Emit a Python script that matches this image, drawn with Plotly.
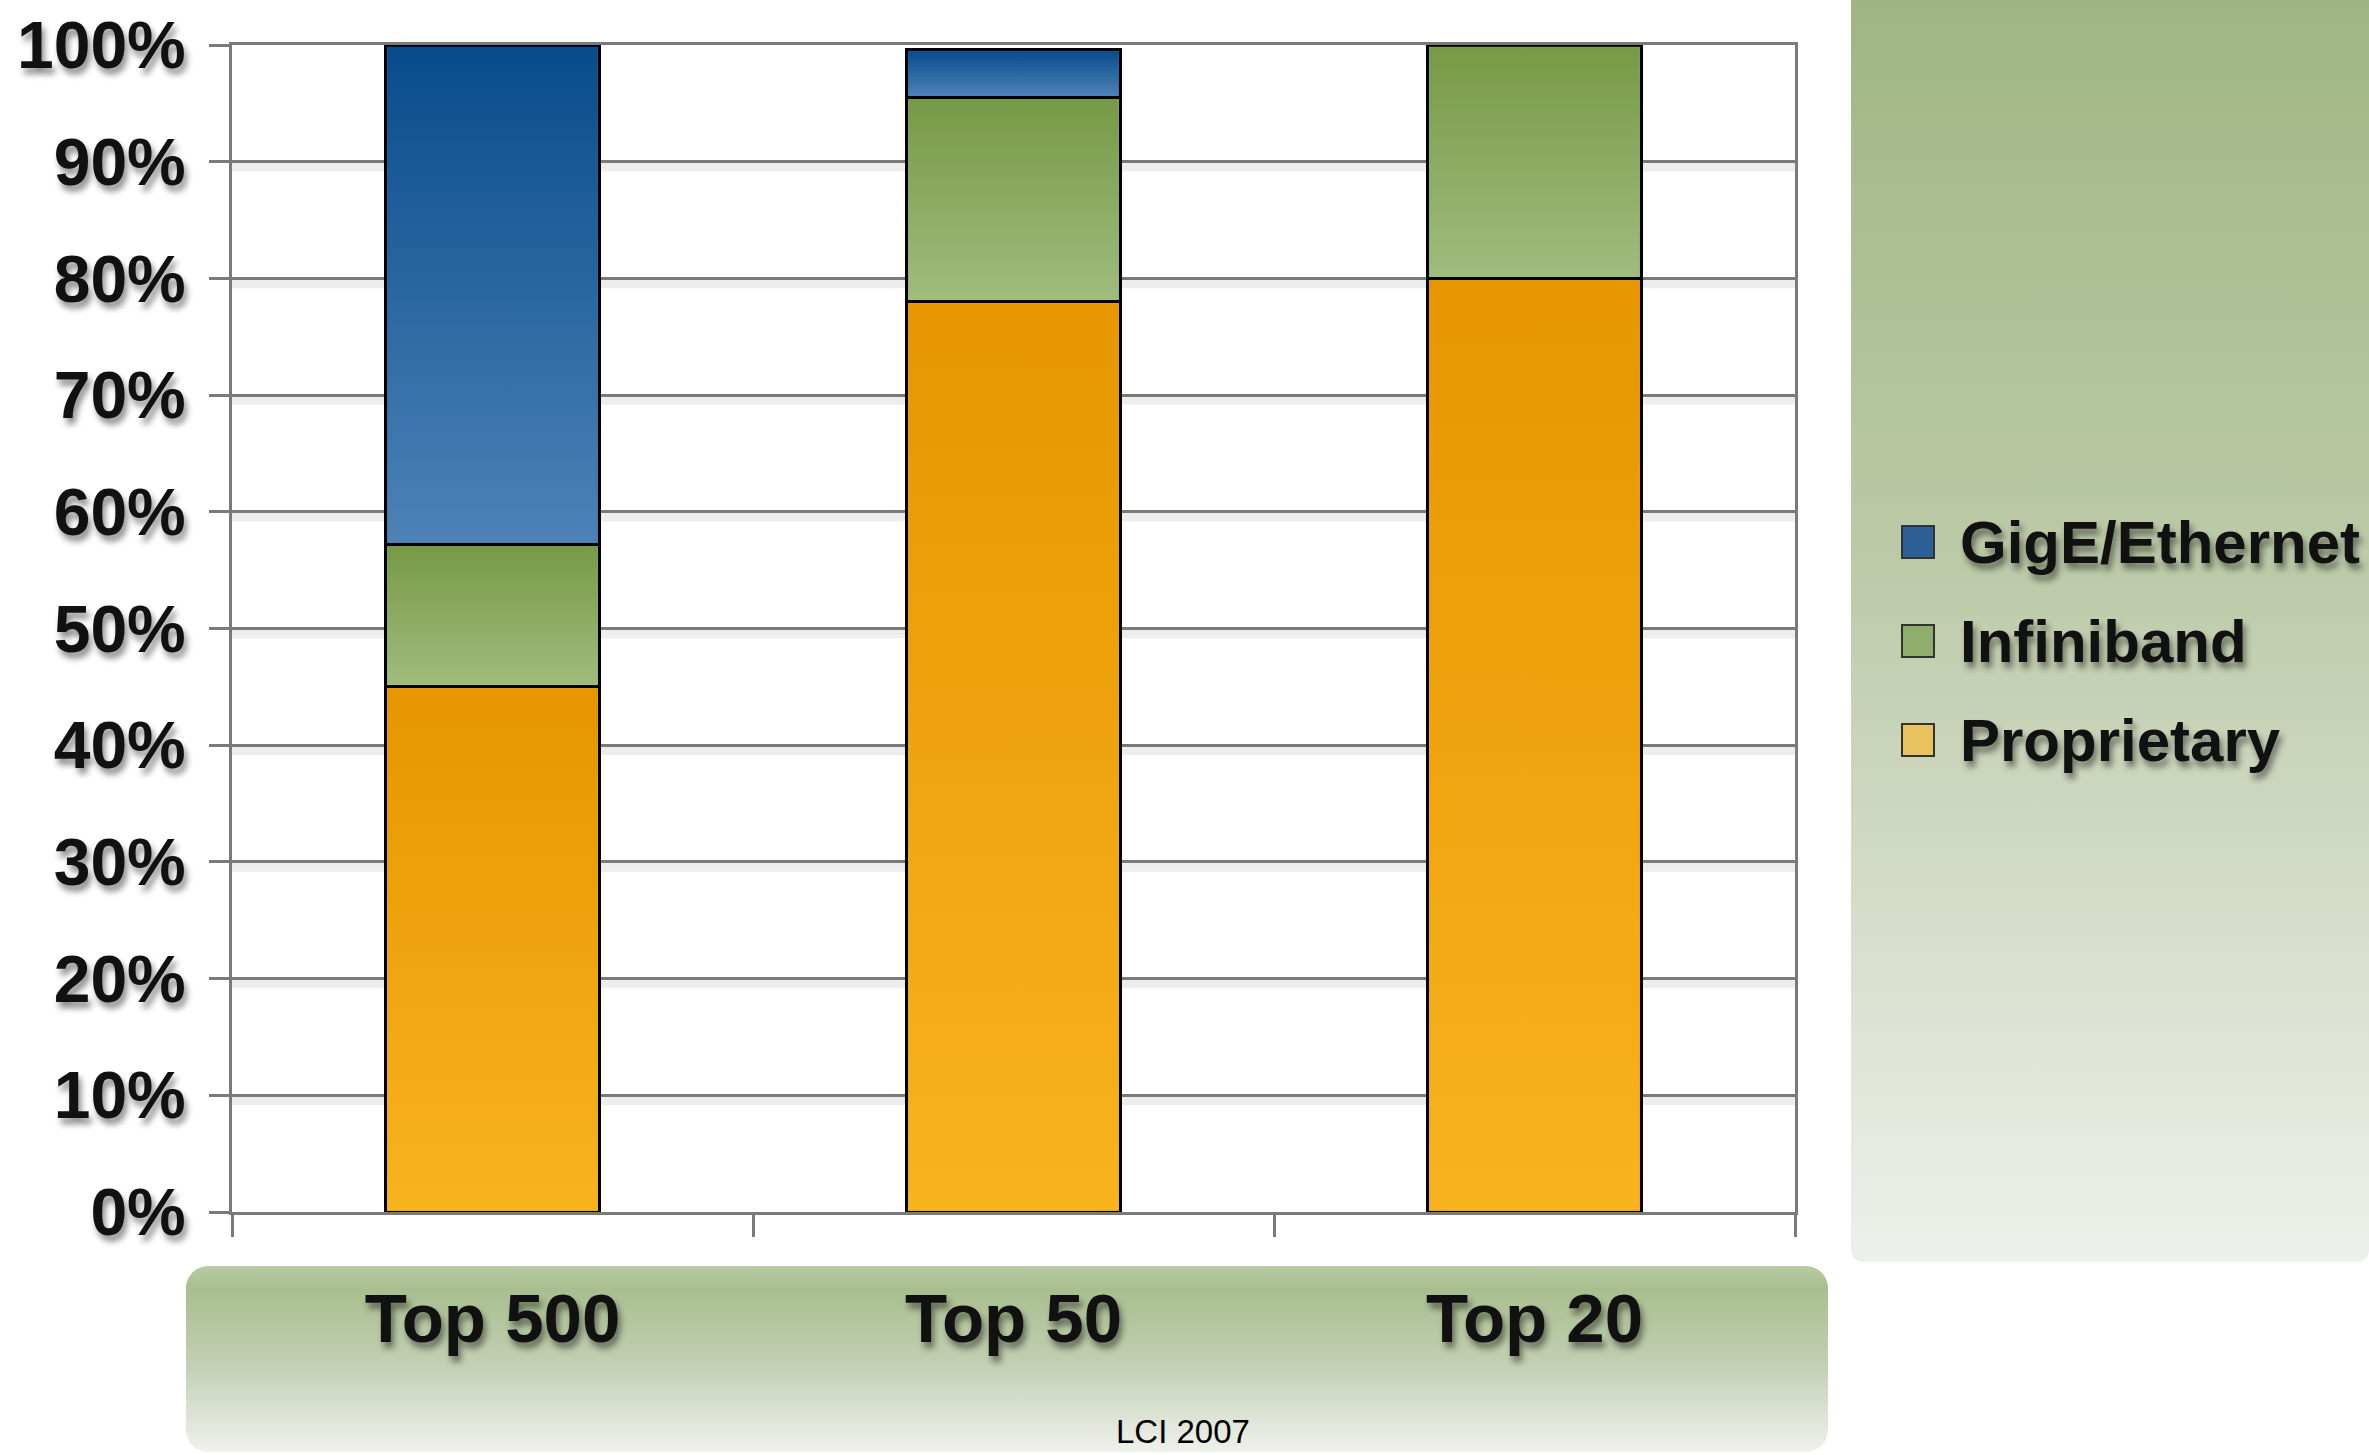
import base64
import plotly.graph_objects as go

# Interconnect share by system class
categories = ["Top 500", "Top 50", "Top 20"]
proprietary = [45.0, 78.0, 80.0]
infiniband = [12.2, 17.5, 20.0]
gige = [42.8, 4.1, 0.0]

series_names = ["Proprietary", "Infiniband", "GigE/Ethernet"]
series_colors = ["#eca20a", "#8ba963", "#2a649e"]
# vertical shading for each series: (top colour, bottom colour)
series_shading = [("#e59600", "#f8b31e"), ("#769a46", "#a0bc7e"), ("#084c8c", "#4d82b6")]
swatch_colors = ["#e8c25e", "#8fae6c", "#2d5f96"]

y_ticks = list(range(0, 101, 10))
y_tick_text = [f"{v}%" for v in y_ticks]

W, H = 2369, 1455
PLOT_X0, PLOT_X1 = 232, 1795
PLOT_Y0, PLOT_Y1 = 45, 1212
BAR_WIDTH = 0.41
OUTLINE = 3
FONT = "Liberation Sans, Arial, Helvetica, sans-serif"
SHADOW = "3px 6px 6px rgba(0,0,0,0.45)"


def gradient_svg(w, h, stops, rx=0):
    stop_xml = "".join(
        f'<stop offset="{o}" stop-color="{c}"/>' for o, c in stops
    )
    svg = (
        f'<svg xmlns="http://www.w3.org/2000/svg" width="{w}" height="{h}" '
        f'viewBox="0 0 {w} {h}" preserveAspectRatio="none">'
        f'<defs><linearGradient id="g" x1="0" y1="0" x2="0" y2="1">{stop_xml}'
        f'</linearGradient></defs>'
        f'<rect x="0" y="0" width="{w}" height="{h}" rx="{rx}" ry="{rx}" fill="url(#g)"/>'
        f'</svg>'
    )
    return "data:image/svg+xml;base64," + base64.b64encode(svg.encode()).decode()


def px_x(x):
    return x / W


def px_y(y):
    return 1 - y / H


fig = go.Figure()
series_values = [proprietary, infiniband, gige]
for name, vals, color in zip(series_names, series_values, series_colors):
    fig.add_trace(go.Bar(
        x=categories, y=vals, name=name, width=BAR_WIDTH,
        marker=dict(color=color, line=dict(color="#000000", width=OUTLINE)),
        showlegend=False,
    ))

images = []

# gradient fill laid over each stacked segment, kept inside its outline
x_unit_px = (PLOT_X1 - PLOT_X0) / len(categories)
y_unit_px = (PLOT_Y1 - PLOT_Y0) / 100.0
inset_x = (OUTLINE / 2) / x_unit_px
inset_y = (OUTLINE / 2) / y_unit_px
for ci in range(len(categories)):
    base = 0.0
    for vals, (c_top, c_bot) in zip(series_values, series_shading):
        v = vals[ci]
        if v > 0:
            images.append(dict(
                source=gradient_svg(100, 100, [(0, c_top), (1, c_bot)]),
                xref="x", yref="y",
                x=ci - BAR_WIDTH / 2 + inset_x, y=base + v - inset_y,
                sizex=BAR_WIDTH - 2 * inset_x, sizey=v - 2 * inset_y,
                xanchor="left", yanchor="top", sizing="stretch", layer="above",
            ))
        base += v

# soft shadow under each gridline
for v in y_ticks[:-1]:
    fig.add_shape(type="line", xref="x domain", yref="y", x0=0, x1=1,
                  y0=v - 0.45, y1=v - 0.45, layer="below",
                  line=dict(color="rgba(0,0,0,0.07)", width=9))

# legend drawn as swatches + labels (GigE on top)
legend_rows = [542, 641, 740]
for (name, sw), row in zip(list(zip(series_names, swatch_colors))[::-1], legend_rows):
    fig.add_shape(type="rect", xref="paper", yref="paper",
                  x0=px_x(1902), x1=px_x(1934), y0=px_y(row + 16), y1=px_y(row - 16),
                  fillcolor=sw, line=dict(color="#333333", width=2))
    fig.add_annotation(text=name, xref="paper", yref="paper", x=px_x(1958), y=px_y(row),
                       xanchor="left", yanchor="middle", showarrow=False,
                       font=dict(family=FONT, size=60, color="#111111", weight="bold",
                                 shadow=SHADOW))

fig.add_annotation(text="LCI 2007", xref="paper", yref="paper", x=px_x(1183), y=px_y(1431),
                   xanchor="center", yanchor="middle", showarrow=False,
                   font=dict(family=FONT, size=33, color="#000000"))

images += [
    dict(source=gradient_svg(518, 1262, [(0, "#9fb583"), (0.45, "#bccaa8"), (1, "#eef0eb")], rx=12),
         xref="paper", yref="paper", x=px_x(1851), y=px_y(-12), sizex=518 / W, sizey=1274 / H,
         xanchor="left", yanchor="top", sizing="stretch", layer="below"),
    dict(source=gradient_svg(1642, 186, [(0, "#b9cca3"), (0.12, "#a8be8f"), (0.55, "#c4d1b5"), (1, "#eff1ec")], rx=22),
         xref="paper", yref="paper", x=px_x(186), y=px_y(1266), sizex=1642 / W, sizey=186 / H,
         xanchor="left", yanchor="top", sizing="stretch", layer="below"),
]

fig.update_layout(
    width=W, height=H, autosize=False,
    margin=dict(l=0, r=0, t=0, b=0),
    paper_bgcolor="white", plot_bgcolor="white",
    barmode="stack", showlegend=False,
    images=images,
    xaxis=dict(
        domain=[px_x(PLOT_X0), px_x(PLOT_X1)], range=[-0.5, 2.5],
        tickson="boundaries", ticks="outside", ticklen=22, tickwidth=3, tickcolor="#7a7a7a",
        showline=True, linecolor="#7a7a7a", linewidth=3, mirror=True, showgrid=False,
        tickfont=dict(family=FONT, size=69, color="#111111", weight="bold", shadow=SHADOW),
        ticklabelstandoff=44, automargin=False,
    ),
    yaxis=dict(
        domain=[px_y(PLOT_Y1), px_y(PLOT_Y0)], range=[0, 100],
        tickvals=y_ticks, ticktext=y_tick_text,
        ticks="outside", ticklen=20, tickwidth=3, tickcolor="#7a7a7a",
        showline=True, linecolor="#7a7a7a", linewidth=3, mirror=True,
        showgrid=True, gridcolor="#7a7a7a", gridwidth=3, zeroline=False,
        tickfont=dict(family=FONT, size=66, color="#111111", weight="bold", shadow=SHADOW),
        ticklabelstandoff=10, automargin=False,
    ),
)

fig.write_html("out.html")
